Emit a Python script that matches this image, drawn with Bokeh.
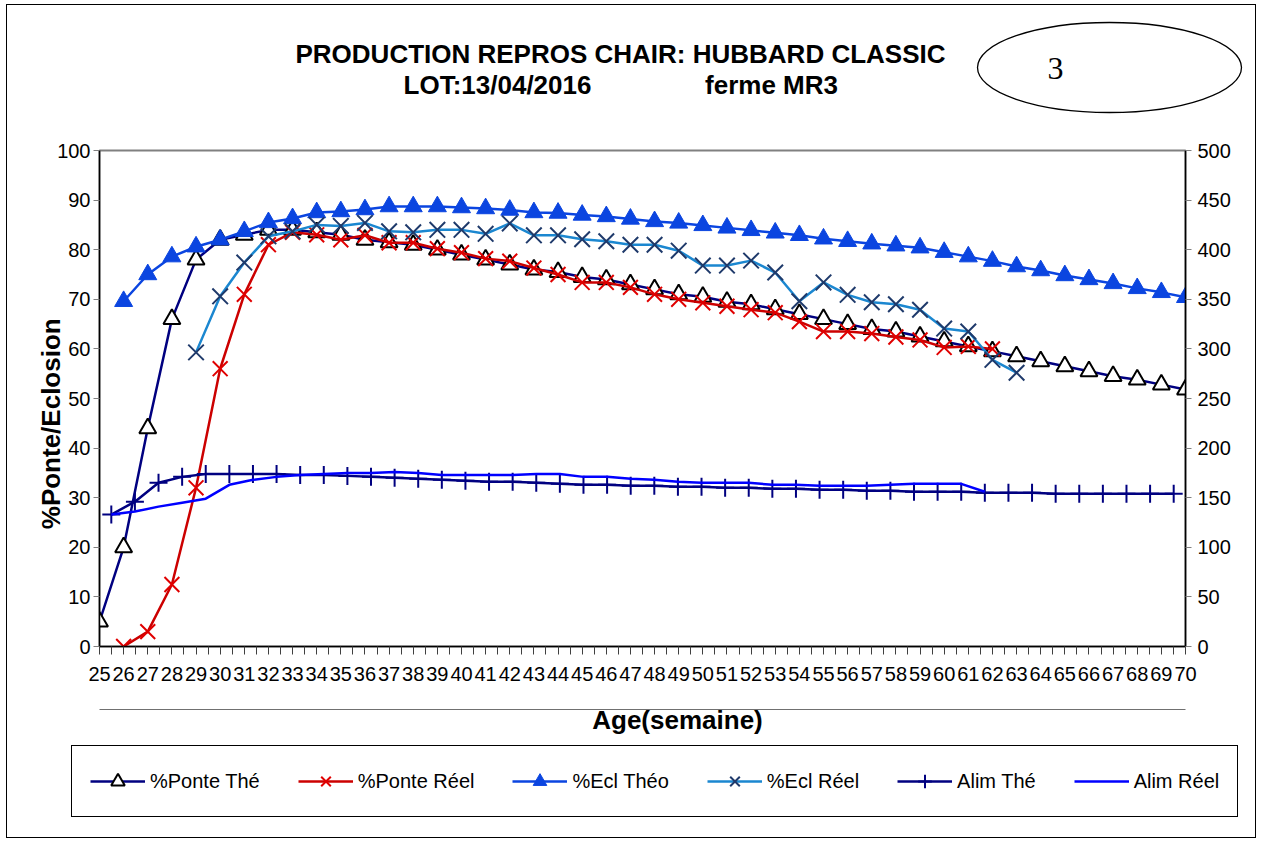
import numpy as np
from bokeh.plotting import figure
from bokeh.layouts import column
from bokeh.models import Range1d, LinearAxis, FixedTicker, Legend, LegendItem
from bokeh.embed import file_html
from bokeh.resources import INLINE
from bokeh.core.properties import value

# ---------------- data ----------------
weeks = list(range(25, 71))
left_ticks = list(range(0, 101, 10))
right_ticks = list(range(0, 501, 50))

ponte_theo = [5, 20, 44, 66, 78, 82, 83, 84, 84, 83.5, 83, 82, 81.5, 81, 80, 79, 78, 77,
              76, 75.5, 74.5, 74, 73, 72, 71, 70.5, 69.5, 69, 68, 67, 66, 65, 64, 63.5,
              62.5, 61.5, 60.5, 59.5, 58.5, 57.5, 56.5, 55.5, 54.5, 53.8, 52.8, 51.8]
ponte_reel = [None, 0, 3, 12.5, 32, 56, 71, 81, 83.5, 83, 82, 82.9, 81.4, 81.4, 80.2, 79.4,
              78.2, 77.7, 76.3, 75, 73.4, 73.4, 72.4, 71, 70, 69.3, 68.6, 67.9, 67.3, 65.5,
              63.5, 63.5, 63.1, 62.4, 61.8, 60.3, 60.5, 60,
              None, None, None, None, None, None, None, None]
ecl_theo = [None, 69.6, 75, 78.6, 80.6, 82, 83.7, 85.5, 86.3, 87.5, 87.7, 88.1, 88.7, 88.7,
            88.7, 88.5, 88.3, 88, 87.5, 87.4, 87, 86.7, 86.2, 85.7, 85.4, 84.9, 84.4, 83.9,
            83.4, 82.9, 82.2, 81.7, 81.2, 80.8, 80.4, 79.5, 78.6, 77.7, 76.6, 75.8, 74.8,
            74, 73.2, 72.2, 71.4, 70.4]
ecl_reel = [None, None, None, None, 59.3, 70.6, 77.4, 82.7, 83.7, 85, 84.8, 85.4, 83.7,
            83.5, 84, 84, 83.2, 85.3, 82.9, 82.9, 82.1, 81.7, 81, 81, 79.8, 76.8, 76.8,
            77.8, 75.4, 69.6, 73.4, 70.9, 69.4, 69, 67.9, 64.1, 63.5, 57.8, 55.2,
            None, None, None, None, None, None, None]
alim_theo = [133, 146, 165, 171, 174, 174, 174, 174, 173, 173, 172, 171, 170, 169, 168, 167,
             166, 166, 165, 164, 163, 163, 162, 162, 161, 161, 160, 160, 159, 159, 158, 158,
             157, 157, 156, 156, 156, 155, 155, 155, 154, 154, 154, 154, 154, 154]
alim_reel = [133, 136, 141, 145, 149, 163, 168, 171, 173, 174, 175, 175, 176, 175, 173, 173,
             173, 173, 174, 174, 171, 171, 169, 168, 166, 165, 165, 165, 163, 163, 162, 162,
             162, 163, 164, 164, 164, 156]

series_names = ["%Ponte Thé", "%Ponte Réel", "%Ecl Théo", "%Ecl Réel", "Alim Thé", "Alim Réel"]
title_1 = "PRODUCTION REPROS CHAIR: HUBBARD CLASSIC"
title_2a = "LOT:13/04/2016"
title_2b = "ferme MR3"
badge = "3"
x_title = "Age(semaine)"
y_title = "%Ponte/Eclosion"


def arr(v):
    return np.array([np.nan if a is None else a for a in v], dtype=float)


FONT = "Liberation Sans"
W = 1248            # inner width of the bordered chart box
OX, OY = 8, 6       # page position of the inner box (after css margin + border)
H_HEAD, H_MAIN, H_FOOT = 119, 577, 136

# styles of the six series
ST = [
    dict(line="#000080", marker="triangle", size=17, fill="white", mline="black", mw=2),
    dict(line="#CC0000", marker="x", size=21, fill=None, mline="#E00000", mw=2),
    dict(line="#0B45E0", marker="triangle", size=18, fill="#0B45E0", mline="#0B45E0", mw=1),
    dict(line="#1B87D0", marker="x", size=22, fill=None, mline="#1F3A6B", mw=2),
    dict(line="#000080", marker="cross", size=18, fill=None, mline="#000080", mw=2),
    dict(line="#0000FF", marker=None),
]

# ---------------- header (titles + badge) ----------------
head = figure(width=W, height=H_HEAD, x_range=Range1d(OX, OX + W), y_range=Range1d(OY + H_HEAD, OY),
              output_backend="svg", toolbar_location=None, min_border=0, frame_align=False,
              x_axis_location=None, y_axis_location=None)
head.grid.visible = False
head.outline_line_color = None
head.text(x=[621], y=[54], text=[title_1], text_font=value(FONT), text_font_size="26px",
          text_font_style="bold", text_align="center", text_baseline="middle", text_color="black")
head.text(x=[498, 772], y=[85, 85], text=[title_2a, title_2b], text_font=value(FONT), text_font_size="26px",
          text_font_style="bold", text_align="center", text_baseline="middle", text_color="black")
head.ellipse(x=[1110], y=[68], width=[264], height=[90], fill_color=None, line_color="black", line_width=1.3)
head.text(x=[1056], y=[69], text=[badge], text_font=value("Liberation Serif"), text_font_size="32px",
          text_align="center", text_baseline="middle", text_color="black")

# ---------------- main chart ----------------
n = len(weeks)
span_w = weeks[-1] - weeks[0]
# the food series sit between the category ticks of a secondary category axis
alim_x_all = weeks[0] + (np.arange(n) + 0.5) * span_w / n

p = figure(width=W, height=H_MAIN, x_range=Range1d(weeks[0], weeks[-1]), y_range=Range1d(0, 100),
           output_backend="svg", toolbar_location=None, frame_align=False,
           min_border_left=92, min_border_right=70, min_border_top=26, min_border_bottom=55)
p.extra_y_ranges = {"y2": Range1d(0, 500)}
p.grid.visible = False
p.outline_line_color = "#808080"
p.outline_line_width = 2

xa = p.xaxis[0]
xa.ticker = FixedTicker(ticks=weeks, minor_ticks=[w + 0.5 for w in weeks[:-1]])
xa.major_tick_out = 8
xa.major_tick_in = 0
xa.minor_tick_out = 8
xa.minor_tick_in = 0
xa.major_tick_line_color = "#404040"
xa.minor_tick_line_color = "#404040"
xa.axis_line_color = "black"
xa.axis_line_width = 1.5
xa.major_label_text_font = FONT
xa.major_label_text_font_size = "20px"
xa.major_label_text_color = "black"
xa.major_label_standoff = 12

ya = p.yaxis[0]
ya.ticker = FixedTicker(ticks=left_ticks, minor_ticks=[])
ya.major_tick_out = 6
ya.major_tick_in = 0
ya.major_tick_line_color = "#808080"
ya.axis_line_color = "black"
ya.axis_line_width = 1.5
ya.major_label_text_font = FONT
ya.major_label_text_font_size = "20px"
ya.major_label_text_color = "black"
ya.major_label_standoff = 3
ya.axis_label = y_title + "\u00a0" * 7
ya.axis_label_text_font = FONT
ya.axis_label_text_font_size = "26px"
ya.axis_label_text_font_style = "bold"
ya.axis_label_text_color = "black"
ya.axis_label_standoff = -12

ra = LinearAxis(y_range_name="y2", ticker=FixedTicker(ticks=right_ticks, minor_ticks=[]))
ra.major_tick_out = 6
ra.major_tick_in = 0
ra.major_tick_line_color = "#808080"
ra.axis_line_color = "black"
ra.axis_line_width = 1.5
ra.major_label_text_font = FONT
ra.major_label_text_font_size = "20px"
ra.major_label_text_color = "black"
ra.major_label_standoff = 6
p.add_layout(ra, "right")

ys_primary = [arr(ponte_theo), arr(ponte_reel), arr(ecl_theo), arr(ecl_reel)]
for yv, st in zip(ys_primary, ST[:4]):
    p.line(weeks, yv, line_color=st["line"], line_width=2.5)
    p.scatter(weeks, yv, marker=st["marker"], size=st["size"], fill_color=st["fill"],
              line_color=st["mline"], line_width=st["mw"])

at = arr(alim_theo)
ar = arr(alim_reel)
p.line(alim_x_all, at, line_color=ST[4]["line"], line_width=2.5, y_range_name="y2")
p.scatter(alim_x_all, at, marker="cross", size=ST[4]["size"], line_color=ST[4]["mline"],
          line_width=2, y_range_name="y2")
p.line(alim_x_all[:len(alim_reel)], ar, line_color=ST[5]["line"], line_width=2.5, y_range_name="y2")

# ---------------- footer (axis title + legend) ----------------
foot = figure(width=W, height=H_FOOT, x_range=Range1d(OX, OX + W),
              y_range=Range1d(OY + H_HEAD + H_MAIN + H_FOOT, OY + H_HEAD + H_MAIN),
              output_backend="svg", toolbar_location=None, min_border=0, frame_align=False,
              x_axis_location=None, y_axis_location=None)
foot.grid.visible = False
foot.outline_line_color = None
foot.segment(x0=[100], y0=[710], x1=[1186], y1=[710], line_color="#707070", line_width=1)
foot.text(x=[678], y=[720], text=[x_title], text_font=value(FONT), text_font_size="26px",
          text_font_style="bold", text_align="center", text_baseline="middle", text_color="black")

items = []
nanv = [np.nan]
for name, st in zip(series_names, ST):
    rs = [foot.line(nanv, nanv, line_color=st["line"], line_width=2.5)]
    if st["marker"]:
        rs.append(foot.scatter(nanv, nanv, marker=st["marker"], size=st["size"], fill_color=st["fill"],
                               line_color=st["mline"], line_width=st["mw"]))
    items.append(LegendItem(label=name, renderers=rs))

leg = Legend(items=items, location=(72 - OX, 20), orientation="horizontal",
             glyph_width=55, glyph_height=34, label_height=34, label_standoff=5,
             padding=18, margin=0, spacing=38,
             border_line_color="black", border_line_width=1.2, border_line_alpha=1.0,
             background_fill_color="white", background_fill_alpha=1.0,
             label_text_font=FONT, label_text_font_size="20px", label_text_color="black")
foot.add_layout(leg)

layout = column(head, p, foot, spacing=0,
                styles={"border": "1.5px solid black", "margin-left": "6px", "margin-top": "4px"})

open("out.html", "w").write(file_html(layout, INLINE))
